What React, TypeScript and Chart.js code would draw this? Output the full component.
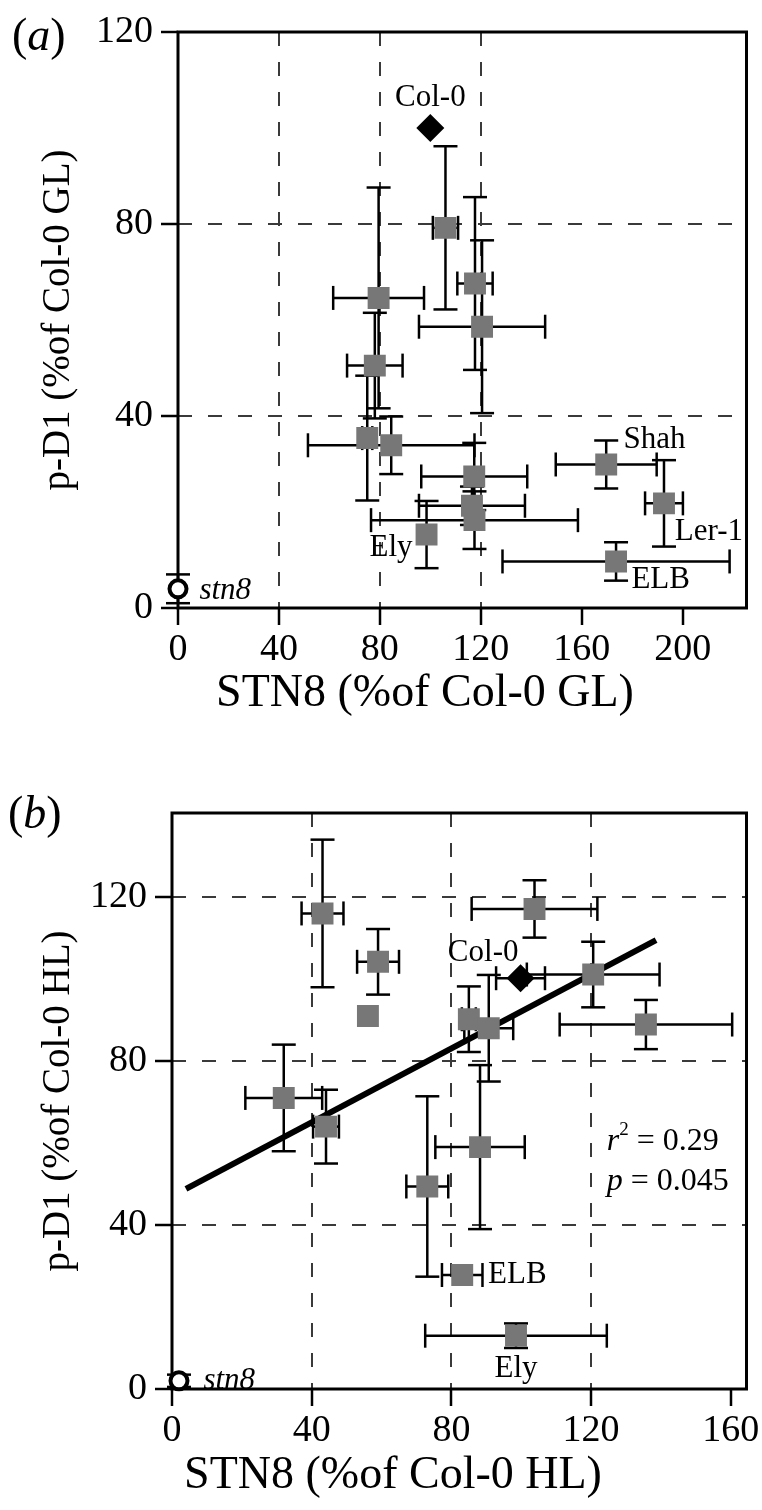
import React, { useEffect, useRef } from "react";
import { Chart, registerables } from "chart.js";

Chart.register(...registerables);

const FONT = "'Liberation Serif', 'Times New Roman', serif";

// ---------------- Panel (a): growth light (GL) ----------------
const aAccX = [106, 79.5, 117.7, 120.5, 78, 75, 84.5, 117.4, 116.5, 117.5, 98.5, 169.7, 192.6, 173.6];
const aAccY = [79.2, 64.6, 67.6, 58.6, 50.5, 35.4, 33.9, 27.4, 21.3, 18.3, 15.3, 29.9, 21.8, 9.7];
const aAccXErr = [5, 18, 7, 25, 11, 2, 33, 21, 21, 41, 0, 20, 7.5, 45];
const aAccYErr = [17, 23, 18, 18, 11, 13, 6, 7, 4, 6, 7, 5, 9, 4];
const aCol0X = [100];
const aCol0Y = [100];
const aStn8X = [0];
const aStn8Y = [4];
const aStn8YErr = [3];
const aXTicks = [0, 40, 80, 120, 160, 200];
const aYTicks = [0, 40, 80, 120];
const aXGrid = [40, 80, 120];
const aYGrid = [40, 80];
const aXMax = 225.3;
const aYMax = 120;

// ---------------- Panel (b): high light (HL) ----------------
const bAccX = [43.1, 103.8, 59.0, 56.1, 120.6, 135.7, 85.0, 90.7, 32.0, 44.1, 88.2, 73.1, 83.1, 98.5];
const bAccY = [116, 117.1, 104.2, 91, 101.1, 88.9, 90.2, 88, 71, 64, 59, 49.4, 27.8, 13];
const bAccXErr = [6, 18, 6, 0, 19, 24.7, 2, 7, 11, 3.7, 12.8, 6, 5.8, 26];
const bAccYErr = [18, 7, 8, 0, 8, 6, 8, 13, 13, 9, 20, 22, 0, 3];
const bCol0X = [99.8];
const bCol0Y = [100.2];
const bCol0XErr = [7];
const bStn8X = [2];
const bStn8Y = [2];
const bStn8YErr = [1.5];
const bRegX = [4, 138.6];
const bRegY = [48.8, 109.5];
const bXTicks = [0, 40, 80, 120, 160];
const bYTicks = [0, 40, 80, 120];
const bXGrid = [40, 80, 120];
const bYGrid = [40, 80, 120];
const bXMax = 164.5;
const bYMax = 140.5;

type Seg = { t: string; italic?: boolean; sup?: boolean };
type Ann = { segs: Seg[]; x: number; y: number; align: "left" | "center"; size?: number };

const aLabels: Ann[] = [
  { segs: [{ t: "Col-0" }], x: 100, y: 106.3, align: "center" },
  { segs: [{ t: "Shah" }], x: 176.6, y: 35, align: "left" },
  { segs: [{ t: "Ler-1" }], x: 196.9, y: 15.8, align: "left" },
  { segs: [{ t: "ELB" }], x: 179.7, y: 5.8, align: "left" },
  { segs: [{ t: "Ely" }], x: 75.9, y: 12.5, align: "left" },
  { segs: [{ t: "stn8", italic: true }], x: 8.5, y: 3.5, align: "left" },
];
const bLabels: Ann[] = [
  { segs: [{ t: "Col-0" }], x: 89.1, y: 106.3, align: "center" },
  { segs: [{ t: "ELB" }], x: 90.5, y: 27.8, align: "left" },
  { segs: [{ t: "Ely" }], x: 98.5, y: 5, align: "center" },
  { segs: [{ t: "stn8", italic: true }], x: 9, y: 2, align: "left" },
  { segs: [{ t: "r", italic: true }, { t: "2", sup: true }, { t: " = 0.29" }], x: 124.5, y: 60.3, align: "left", size: 32 },
  { segs: [{ t: "p", italic: true }, { t: " = 0.045" }], x: 124.5, y: 50.5, align: "left", size: 32 },
];

function segFont(s: Seg, size: number) {
  const sz = s.sup ? Math.round(size * 0.6) : size;
  return `${s.italic ? "italic " : ""}${sz}px ${FONT}`;
}

function drawRich(ctx: CanvasRenderingContext2D, segs: Seg[], x: number, y: number, align: string, size: number) {
  let total = 0;
  const widths = segs.map((s) => {
    ctx.font = segFont(s, size);
    const w = ctx.measureText(s.t).width;
    total += w;
    return w;
  });
  let cx = align === "center" ? x - total / 2 : x;
  segs.forEach((s, i) => {
    ctx.font = segFont(s, size);
    ctx.textAlign = "left";
    ctx.textBaseline = "middle";
    ctx.fillText(s.t, cx, s.sup ? y - size * 0.38 : y);
    cx += widths[i];
  });
}

const errorBarsPlugin = {
  id: "errorBars",
  beforeDatasetsDraw(chart: any) {
    const { ctx } = chart;
    const xs = chart.scales.x;
    const ys = chart.scales.y;
    const cap = 12;
    ctx.save();
    ctx.strokeStyle = "#000";
    ctx.lineWidth = 2.5;
    const seg = (x1: number, y1: number, x2: number, y2: number) => {
      ctx.beginPath();
      ctx.moveTo(x1, y1);
      ctx.lineTo(x2, y2);
      ctx.stroke();
    };
    chart.data.datasets.forEach((ds: any) => {
      const ex = ds.errX;
      const ey = ds.errY;
      if (!ex && !ey) return;
      ds.data.forEach((p: any, i: number) => {
        const cx = xs.getPixelForValue(p.x);
        const cy = ys.getPixelForValue(p.y);
        const dx = ex ? ex[i] : 0;
        const dy = ey ? ey[i] : 0;
        if (dx > 0) {
          const l = xs.getPixelForValue(p.x - dx);
          const r = xs.getPixelForValue(p.x + dx);
          seg(l, cy, r, cy);
          seg(l, cy - cap, l, cy + cap);
          seg(r, cy - cap, r, cy + cap);
        }
        if (dy > 0) {
          const t = ys.getPixelForValue(p.y + dy);
          const b = ys.getPixelForValue(p.y - dy);
          seg(cx, t, cx, b);
          seg(cx - cap, t, cx + cap, t);
          seg(cx - cap, b, cx + cap, b);
        }
      });
    });
    ctx.restore();
  },
};

const framePlugin = {
  id: "frame",
  beforeDatasetsDraw(chart: any) {
    const { ctx, chartArea: a } = chart;
    ctx.save();
    ctx.strokeStyle = "#000";
    ctx.lineWidth = 3;
    ctx.strokeRect(a.left, a.top, a.right - a.left, a.bottom - a.top);
    ctx.restore();
  },
};

const annotationPlugin = {
  id: "annotations",
  afterDraw(chart: any, _args: any, opts: any) {
    const { ctx } = chart;
    const xs = chart.scales.x;
    const ys = chart.scales.y;
    ctx.save();
    ctx.fillStyle = "#000";
    (opts.labels || []).forEach((l: Ann) => {
      drawRich(ctx, l.segs, xs.getPixelForValue(l.x), ys.getPixelForValue(l.y), l.align, l.size || 31);
    });
    if (opts.panel) {
      drawRich(ctx, opts.panel.segs, opts.panel.x, opts.panel.y, "left", 46);
    }
    if (opts.xTitle) {
      drawRich(ctx, [{ t: opts.xTitle.text }], opts.xTitle.x, opts.xTitle.y, "center", 46);
    }
    ctx.restore();
  },
};

function makeAxis(
  ticksArr: number[],
  gridArr: number[],
  max: number,
  title: string,
  horizontal: boolean,
  fit: number,
  tickPad: number,
  titlePad: number
) {
  return {
    type: "linear",
    min: 0,
    max,
    afterBuildTicks: (s: any) => {
      s.ticks = ticksArr.map((v) => ({ value: v }));
    },
    afterFit: (s: any) => {
      if (horizontal) s.height = fit;
      else s.width = fit;
    },
    border: { display: false, dash: [14, 16] },
    grid: {
      color: (c: any) => (c.tick && gridArr.includes(c.tick.value) ? "#3a3a3a" : "rgba(0,0,0,0)"),
      lineWidth: 2,
      drawTicks: true,
      tickLength: 17,
      tickColor: "#000",
      tickWidth: 2.5,
    },
    ticks: {
      color: "#000",
      font: { family: FONT, size: 38 },
      padding: tickPad,
      autoSkip: false,
      maxRotation: 0,
      callback: (v: any) => String(v),
    },
    title: {
      display: !horizontal,
      text: title,
      color: "#000",
      font: { family: FONT, size: 39 },
      padding: { top: titlePad, bottom: titlePad },
    },
  };
}

function pts(xs: number[], ys: number[]) {
  return xs.map((x, i) => ({ x, y: ys[i] }));
}

const GRAY = "#777777";

function configA() {
  return {
    type: "scatter",
    data: {
      datasets: [
        {
          data: pts(aAccX, aAccY),
          errX: aAccXErr,
          errY: aAccYErr,
          pointStyle: "rect",
          pointRadius: 15.5,
          backgroundColor: GRAY,
          borderWidth: 0,
          order: 1,
        },
        {
          data: pts(aCol0X, aCol0Y),
          pointStyle: "rectRot",
          pointRadius: 14,
          backgroundColor: "#000",
          borderWidth: 0,
          order: 0,
        },
        {
          data: pts(aStn8X, aStn8Y),
          errY: aStn8YErr,
          pointStyle: "circle",
          pointRadius: 8.5,
          backgroundColor: "#fff",
          borderColor: "#000",
          borderWidth: 4,
          clip: false,
          order: 0,
        },
      ],
    },
    options: {
      animation: false,
      responsive: false,
      devicePixelRatio: 1,
      layout: { padding: { top: 32, right: 6, left: 0, bottom: 0 } },
      plugins: {
        legend: { display: false },
        tooltip: { enabled: false },
        annotations: {
          labels: aLabels,
          panel: { segs: [{ t: "(" }, { t: "a", italic: true }, { t: ")" }], x: 12, y: 38 },
          xTitle: { text: "STN8 (%of Col-0 GL)", x: 425, y: 694 },
        },
      },
      scales: {
        x: makeAxis(aXTicks, aXGrid, aXMax, "STN8 (%of Col-0 GL)", true, 132, 2, 17),
        y: makeAxis(aYTicks, aYGrid, aYMax, "p-D1 (%of Col-0 GL)", false, 178, 8, 35),
      },
    },
    plugins: [framePlugin, errorBarsPlugin, annotationPlugin],
  };
}

function configB() {
  return {
    type: "scatter",
    data: {
      datasets: [
        {
          data: pts(bAccX, bAccY),
          errX: bAccXErr,
          errY: bAccYErr,
          pointStyle: "rect",
          pointRadius: 15.5,
          backgroundColor: GRAY,
          borderWidth: 0,
          order: 1,
        },
        {
          data: pts(bCol0X, bCol0Y),
          errX: bCol0XErr,
          pointStyle: "rectRot",
          pointRadius: 14,
          backgroundColor: "#000",
          borderWidth: 0,
          order: 0,
        },
        {
          data: pts(bStn8X, bStn8Y),
          errY: bStn8YErr,
          pointStyle: "circle",
          pointRadius: 8.5,
          backgroundColor: "#fff",
          borderColor: "#000",
          borderWidth: 4,
          clip: false,
          order: 0,
        },
        {
          data: pts(bRegX, bRegY),
          showLine: true,
          pointRadius: 0,
          borderColor: "#000",
          borderWidth: 6,
          order: 2,
        },
      ],
    },
    options: {
      animation: false,
      responsive: false,
      devicePixelRatio: 1,
      layout: { padding: { top: 73, right: 11, left: 0, bottom: 0 } },
      plugins: {
        legend: { display: false },
        tooltip: { enabled: false },
        annotations: {
          labels: bLabels,
          panel: { segs: [{ t: "(" }, { t: "b", italic: true }, { t: ")" }], x: 8, y: 76 },
          xTitle: { text: "STN8 (%of Col-0 HL)", x: 393, y: 736 },
        },
      },
      scales: {
        x: makeAxis(bXTicks, bXGrid, bXMax, "STN8 (%of Col-0 HL)", true, 121, 2, 9),
        y: makeAxis(bYTicks, bYGrid, bYMax, "p-D1 (%of Col-0 HL)", false, 172, 8, 35),
      },
    },
    plugins: [framePlugin, errorBarsPlugin, annotationPlugin],
  };
}

function ChartCanvas({ cfg, top, height }: { cfg: () => any; top: number; height: number }) {
  const ref = useRef<HTMLCanvasElement | null>(null);
  useEffect(() => {
    if (!ref.current) return;
    const chart = new Chart(ref.current, cfg());
    return () => chart.destroy();
  }, [cfg]);
  return (
    <canvas
      ref={ref}
      width={762}
      height={height}
      style={{ position: "absolute", left: 0, top, width: 762, height }}
    />
  );
}

export default function App() {
  return (
    <div style={{ position: "absolute", left: 0, top: 0, width: 762, height: 1510, background: "#fff" }}>
      <ChartCanvas cfg={configA} top={0} height={740} />
      <ChartCanvas cfg={configB} top={740} height={770} />
    </div>
  );
}
